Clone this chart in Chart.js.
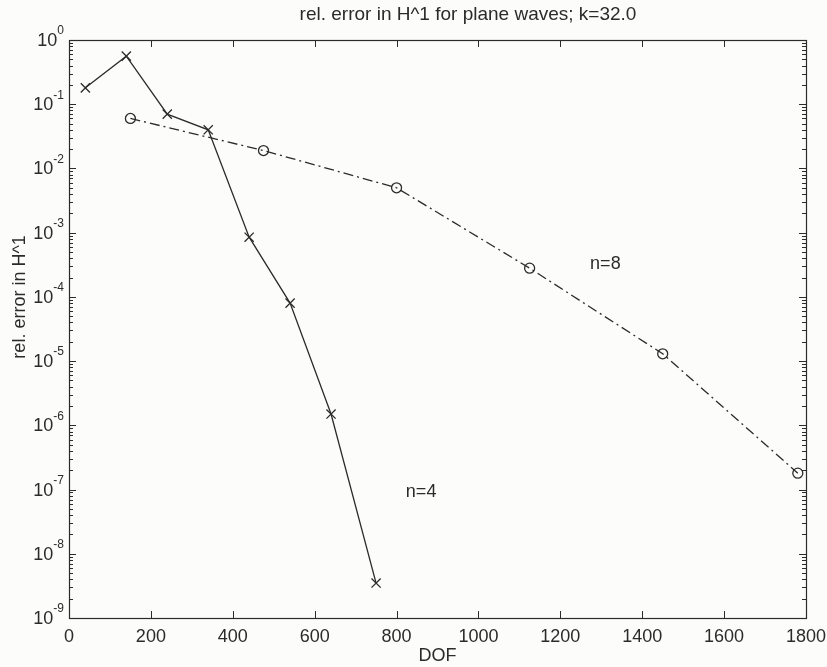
<!DOCTYPE html>
<html>
<head>
<meta charset="utf-8">
<script src="https://cdn.jsdelivr.net/npm/chart.js@4.4.0/dist/chart.umd.min.js"></script>
<style>
  html, body { margin: 0; padding: 0; background: #fcfcfb; }
  #wrap { width: 827px; height: 667px; }
</style>
</head>
<body>
<div id="wrap"><canvas id="errChart" width="827" height="667"></canvas></div>
<script>
// Data
const dofN4 = [40, 140, 240, 340, 440, 540, 640, 750];
const errN4 = [0.18, 0.56, 0.07, 0.04, 8.5e-4, 8e-5, 1.5e-6, 3.5e-9];
const dofN8 = [150, 475, 800, 1125, 1450, 1780];
const errN8 = [0.06, 0.019, 0.005, 2.8e-4, 1.3e-5, 1.8e-7];
const xTicks = [0, 200, 400, 600, 800, 1000, 1200, 1400, 1600, 1800];
const yExponents = [0, -1, -2, -3, -4, -5, -6, -7, -8, -9];
const titleText = "rel. error in H^1 for plane waves; k=32.0";
const yTitleText = "rel. error in H^1";
const labels = [
  { text: "n=8", x: 1310, y: 3.2e-4 },
  { text: "n=4", x: 860, y: 9e-8 }
];

const ink = "#2b2b2b";
const font = "'Liberation Sans', Arial, Helvetica, sans-serif";

const toPoints = (xs, ys) => xs.map((x, i) => ({ x, y: ys[i] }));

// Matlab-like frame, inward ticks, superscript labels
const axesPlugin = {
  id: "matlabAxes",
  beforeDraw(chart) {
    const c = chart.ctx;
    c.save();
    c.fillStyle = "#fcfcfb";
    c.fillRect(0, 0, chart.width, chart.height);
    c.restore();
  },
  afterDraw(chart) {
    const c = chart.ctx;
    const a = chart.chartArea;
    const xs = chart.scales.x, ys = chart.scales.y;
    c.save();
    c.strokeStyle = ink;
    c.lineWidth = 1.2;
    c.strokeRect(a.left + 0.5, a.top + 0.5, a.right - a.left, a.bottom - a.top);

    c.lineWidth = 1;
    c.beginPath();
    xTicks.forEach(v => {
      const px = Math.round(xs.getPixelForValue(v)) + 0.5;
      c.moveTo(px, a.bottom); c.lineTo(px, a.bottom - 7);
      c.moveTo(px, a.top); c.lineTo(px, a.top + 7);
    });
    yExponents.forEach(e => {
      const py = Math.round(ys.getPixelForValue(Math.pow(10, e))) + 0.5;
      c.moveTo(a.left, py); c.lineTo(a.left + 7, py);
      c.moveTo(a.right, py); c.lineTo(a.right - 7, py);
      if (e > -9) {
        for (let m = 2; m <= 9; m++) {
          const pm = Math.round(ys.getPixelForValue(m * Math.pow(10, e - 1))) + 0.5;
          c.moveTo(a.left, pm); c.lineTo(a.left + 4, pm);
          c.moveTo(a.right, pm); c.lineTo(a.right - 4, pm);
        }
      }
    });
    c.stroke();

    // y tick labels 10^e
    c.fillStyle = ink;
    c.textBaseline = "middle";
    yExponents.forEach(e => {
      const py = ys.getPixelForValue(Math.pow(10, e));
      const sup = String(e);
      c.font = "12px " + font;
      const sw = c.measureText(sup).width;
      c.textAlign = "left";
      c.fillText(sup, a.left - 5 - sw, py - 9);
      c.font = "18px " + font;
      c.textAlign = "right";
      c.fillText("10", a.left - 5 - sw, py + 1);
    });

    // title
    c.font = "19px " + font;
    c.textAlign = "center";
    c.fillText(titleText, 468, 15);

    // y axis title
    c.save();
    c.translate(20, ys.getPixelForValue(1e-4));
    c.rotate(-Math.PI / 2);
    c.font = "18px " + font;
    c.fillText(yTitleText, 0, 0);
    c.restore();

    // curve labels
    c.font = "18px " + font;
    labels.forEach(l => {
      c.fillText(l.text, xs.getPixelForValue(l.x), ys.getPixelForValue(l.y));
    });
    c.restore();
  }
};

new Chart(document.getElementById("errChart"), {
  type: "line",
  data: {
    datasets: [
      {
        label: "n=4",
        data: toPoints(dofN4, errN4),
        borderColor: ink,
        borderWidth: 1.3,
        pointStyle: "crossRot",
        pointRadius: 6.5,
        pointBorderWidth: 1.3,
        pointBorderColor: ink,
        tension: 0
      },
      {
        label: "n=8",
        data: toPoints(dofN8, errN8),
        borderColor: ink,
        borderWidth: 1.3,
        borderDash: [10, 4, 2, 4],
        pointStyle: "circle",
        pointRadius: 5,
        pointBorderWidth: 1.3,
        pointBorderColor: ink,
        pointBackgroundColor: "rgba(0,0,0,0)",
        tension: 0
      }
    ]
  },
  options: {
    responsive: false,
    animation: false,
    layout: { padding: { top: 40, right: 21, left: 0, bottom: 0 } },
    plugins: { legend: { display: false }, tooltip: { enabled: false }, title: { display: false } },
    scales: {
      x: {
        type: "linear",
        min: 0,
        max: 1800,
        afterBuildTicks: s => { s.ticks = xTicks.map(v => ({ value: v })); },
        afterFit: s => { s.height = 49; },
        grid: { display: false },
        border: { display: false },
        ticks: { color: ink, font: { size: 18, family: font }, padding: 0, maxRotation: 0, callback: v => String(v) },
        title: { display: true, text: "DOF", color: ink, font: { size: 18, family: font }, padding: { top: 0, bottom: 0 } }
      },
      y: {
        type: "logarithmic",
        min: 1e-9,
        max: 1,
        afterFit: s => { s.width = 69; },
        grid: { display: false },
        border: { display: false },
        ticks: { display: false },
        title: { display: false }
      }
    }
  },
  plugins: [axesPlugin]
});
</script>
</body>
</html>
